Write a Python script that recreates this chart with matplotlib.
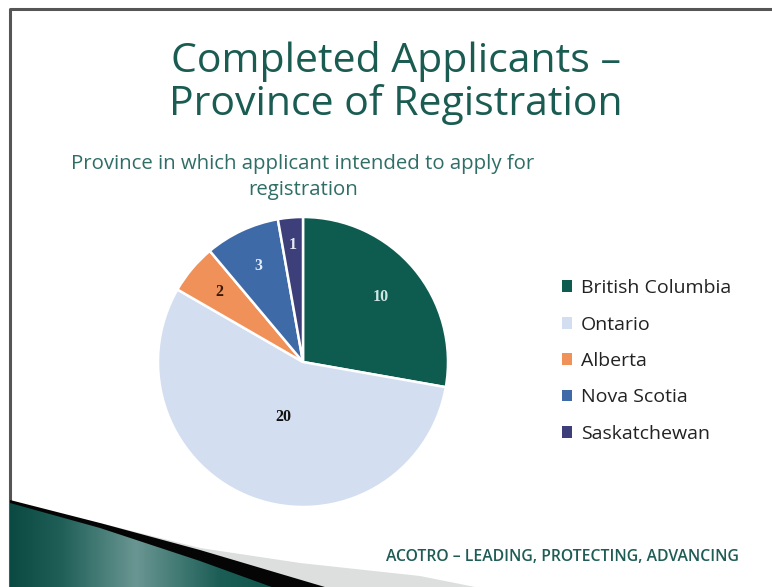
import numpy as np
import matplotlib
matplotlib.use("Agg")
import matplotlib.pyplot as plt
from matplotlib.patches import Polygon, Rectangle
from matplotlib.colors import LinearSegmentedColormap

# ---------------- data ----------------
provinces = ["British Columbia", "Ontario", "Alberta", "Nova Scotia", "Saskatchewan"]
counts = [10, 20, 2, 3, 1]
colors = ["#0e5c50", "#d3dff0", "#f0915a", "#3e6aa8", "#3d3f7a"]
label_colors = ["#cfe6e4", "#111111", "#3a1a05", "#e6eef8", "#e6e8f4"]

title_text = "Completed Applicants \u2013\nProvince of Registration"
subtitle_text = "Province in which applicant intended to apply for\nregistration"
footer_text = "ACOTRO \u2013 LEADING, PROTECTING, ADVANCING"

W, H = 772, 587
fig = plt.figure(figsize=(W / 100, H / 100), dpi=100)
fig.patch.set_facecolor("white")

# background axes in pixel coordinates
bg = fig.add_axes([0, 0, 1, 1])
bg.set_xlim(0, W)
bg.set_ylim(H, 0)
bg.axis("off")

# frame border
bg.plot([10, 10, W + 5], [H + 5, 9, 9], color="#555555", lw=2.2, solid_capstyle="butt")

# light gray swoosh
gray_poly = Polygon([(100, 523), (200, 548), (300, 563), (420, 576), (490, 590), (10, 590), (10, 520)],
                    closed=True, facecolor="#dcdfde", edgecolor="none", zorder=1)
bg.add_patch(gray_poly)

# black band
black_poly = Polygon([(10, 500), (100, 523), (200, 550), (335, 590), (270, 590),
                      (200, 562), (100, 529), (10, 504)],
                     closed=True, facecolor="#050505", edgecolor="none", zorder=2)
bg.add_patch(black_poly)

# green gradient area
green_poly = Polygon([(10, 503), (100, 528), (200, 561), (280, 590), (10, 590)],
                     closed=True, facecolor="none", edgecolor="none", zorder=3)
bg.add_patch(green_poly)
cmap = LinearSegmentedColormap.from_list(
    "sw", [(0, "#0a4a42"), (0.18, "#1f5f58"), (0.45, "#6a9692"), (0.75, "#1c5e56"), (1, "#0b5248")])
grad = np.linspace(0, 1, 300).reshape(1, -1)
im = bg.imshow(grad, cmap=cmap, extent=(10, 290, 590, 495), aspect="auto", zorder=3)
im.set_clip_path(green_poly)

# title
fig.text(396 / W, 1 - 83 / H, title_text, ha="center", va="center",
         fontsize=29.5, color="#1a5c52", family="Open Sans", linespacing=1.08)

# subtitle
fig.text(303 / W, 1 - 177 / H, subtitle_text, ha="center", va="center",
         fontsize=14.7, color="#2f6e67", family="Open Sans", linespacing=1.35)

# footer
fig.text(562 / W, 1 - 557 / H, footer_text, ha="center", va="center",
         fontsize=11.3, color="#1e5c55", family="Open Sans", fontweight="semibold")

# pie
cx, cy, r = 303, 362, 145
ax = fig.add_axes([(cx - r) / W, (H - cy - r) / H, 2 * r / W, 2 * r / H])
wedges, texts, autotexts = ax.pie(
    counts, colors=colors, startangle=90, counterclock=False,
    radius=1, autopct=lambda p: "%d" % round(p * sum(counts) / 100),
    pctdistance=0.74, wedgeprops=dict(edgecolor="white", linewidth=1.8),
    textprops=dict(fontsize=10, fontweight="bold", family="DejaVu Serif"))
ax.set_xlim(-1, 1)
ax.set_ylim(-1, 1)
ax.set_aspect("auto")
ax.axis("off")

dists = [0.7, 0.4, 0.75, 0.73, 0.81]
for w, t, d, c in zip(wedges, autotexts, dists, label_colors):
    ang = np.deg2rad((w.theta1 + w.theta2) / 2)
    t.set_position((d * np.cos(ang), d * np.sin(ang)))
    t.set_color(c)
    t.set_family("Liberation Serif")
    t.set_fontsize(11.5)

# legend
handles = [Rectangle((0, 0), 1, 1, facecolor=c, edgecolor="none") for c in colors]
leg = fig.legend(handles, provinces, loc="center left",
                 bbox_to_anchor=(544 / W, 1 - 361 / H), frameon=False,
                 prop=dict(family="Open Sans", size=14), labelcolor="#222222",
                 handlelength=0.55, handleheight=0.55, handletextpad=0.45,
                 labelspacing=0.95)

fig.savefig("out.png", dpi=100, facecolor="white")
